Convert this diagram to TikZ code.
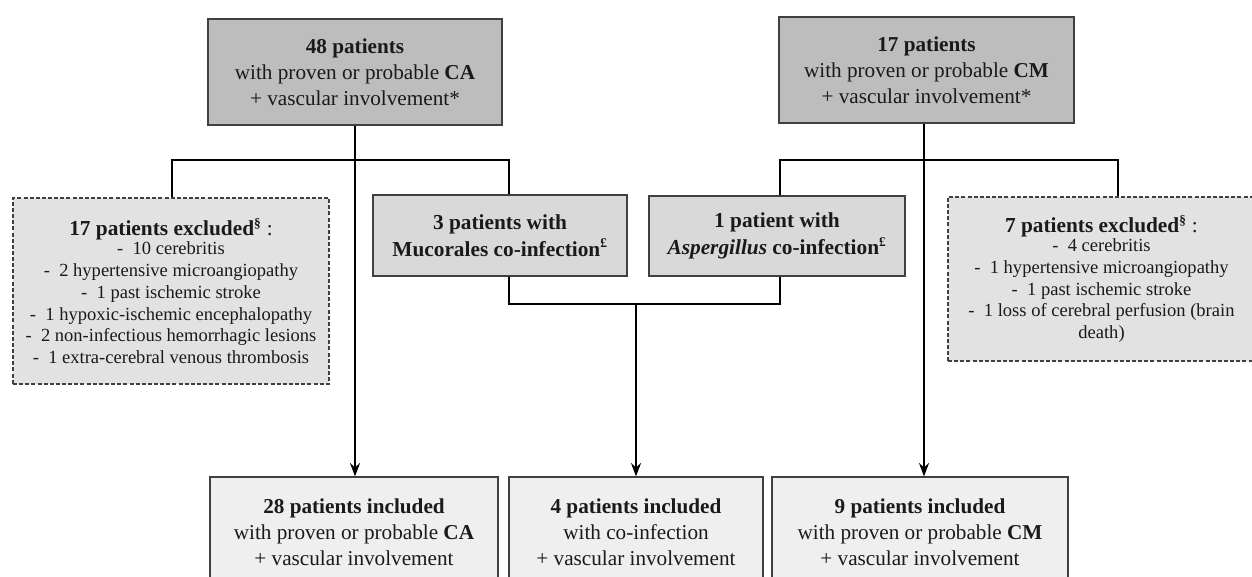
\documentclass[tikz,border=0pt]{standalone}
\usepackage{fontspec}
\setmainfont{Liberation Serif}
\usetikzlibrary{arrows.meta,calc}
\definecolor{topfill}{HTML}{BDBDBD}
\definecolor{midfill}{HTML}{D9D9D9}
\definecolor{exfill}{HTML}{E2E2E2}
\definecolor{botfill}{HTML}{EFEFEF}
\definecolor{edge}{HTML}{404040}
\definecolor{ink}{HTML}{1A1A1A}
\tikzset{
  basebox/.style={rectangle, draw=edge, line width=0.9pt, inner sep=0pt, align=center, text=ink},
  topbox/.style={basebox, fill=topfill, font=\fontsize{15.9}{19.4}\selectfont},
  midbox/.style={basebox, fill=midfill, font=\bfseries\fontsize{16}{20.2}\selectfont},
  exbox/.style={basebox, fill=exfill, dashed, dash pattern=on 3pt off 1.6pt, font=\fontsize{13.9}{16.3}\selectfont},
  botbox/.style={basebox, fill=botfill, font=\fontsize{15.9}{19.5}\selectfont},
  conn/.style={draw=black, line width=1.5pt},
  arr/.style={conn, -{Stealth[length=10pt,width=7.5pt]}}
}
\begin{document}
\begin{tikzpicture}[x=0.75pt,y=-0.75pt]
\path[use as bounding box] (0,0) rectangle (1252,577);
\clip (0,0) rectangle (1252,577);
\fill[white] (0,0) rectangle (1252,577);

% top boxes
\node[topbox, minimum width=220.5pt, minimum height=79.5pt] (tl) at (355,72)
  {\textbf{48 patients}\\with proven or probable \textbf{CA}\\+ vascular involvement*};
\node[topbox, minimum width=221.25pt, minimum height=79.5pt] (tr) at (926.5,70)
  {\textbf{17 patients}\\with proven or probable \textbf{CM}\\+ vascular involvement*};

% excluded boxes
\node[exbox, minimum width=237pt, minimum height=139.5pt] (exl) at (171,291)
  {{\bfseries\fontsize{16}{18}\selectfont 17 patients excluded\textsuperscript{\fontsize{10}{10}\selectfont§}}{\fontsize{16}{18}\selectfont\ :}\\[-2pt]
   -\ \ 10 cerebritis\\
   -\ \ 2 hypertensive microangiopathy\\
   -\ \ 1 past ischemic stroke\\
   -\ \ 1 hypoxic-ischemic encephalopathy\\
   -\ \ 2 non-infectious hemorrhagic lesions\\
   -\ \ 1 extra-cerebral venous thrombosis};
\node[exbox, minimum width=230.25pt, minimum height=123pt] (exr) at (1101.5,279)
  {{\bfseries\fontsize{16}{18}\selectfont 7 patients excluded\textsuperscript{\fontsize{10}{10}\selectfont§}}{\fontsize{16}{18}\selectfont\ :}\\[-2pt]
   -\ \ 4 cerebritis\\
   -\ \ 1 hypertensive microangiopathy\\
   -\ \ 1 past ischemic stroke\\
   -\ \ 1 loss of cerebral perfusion (brain\\
   death)};

% co-infection boxes
\node[midbox, minimum width=190.5pt, minimum height=60.75pt] (muc) at (500,235.5)
  {3 patients with\\Mucorales co-infection\textsuperscript{\fontsize{10}{10}\selectfont£}};
\node[midbox, minimum width=192pt, minimum height=60pt] (asp) at (777,236)
  {1 patient with\\\textit{Aspergillus} co-infection\textsuperscript{\fontsize{10}{10}\selectfont£}};

% bottom boxes
\node[botbox, minimum width=216pt, minimum height=82.5pt] (bl) at (354,532)
  {\textbf{28 patients included}\\with proven or probable \textbf{CA}\\+ vascular involvement};
\node[botbox, minimum width=190.5pt, minimum height=82.5pt] (bm) at (636,532)
  {\textbf{4 patients included}\\with co-infection\\+ vascular involvement};
\node[botbox, minimum width=222pt, minimum height=82.5pt] (br) at (920,532)
  {\textbf{9 patients included}\\with proven or probable \textbf{CM}\\+ vascular involvement};

% attachment points
\coordinate (tlx) at (355,0);
\coordinate (trx) at (924,0);
\coordinate (mucx) at (509,0);
\coordinate (aspx) at (780,0);
\coordinate (exlx) at (172,0);
\coordinate (exrx) at (1118,0);
\coordinate (bmx) at (636,0);
\coordinate (hup) at (0,160);
\coordinate (hlow) at (0,304);

% left tree
\draw[arr] (tl.south -| tlx) -- (bl.north -| tlx);
\draw[conn] (exl.north -| exlx) |- (hup -| mucx) -- (muc.north -| mucx);
% right tree
\draw[arr] (tr.south -| trx) -- (br.north -| trx);
\draw[conn] (asp.north -| aspx) |- (hup -| exrx) -- (exr.north -| exrx);
% co-infection merge
\draw[conn] (muc.south -| mucx) |- (hlow -| aspx) -- (asp.south -| aspx);
\draw[arr] (hlow -| bmx) -- (bm.north -| bmx);
\end{tikzpicture}
\end{document}
